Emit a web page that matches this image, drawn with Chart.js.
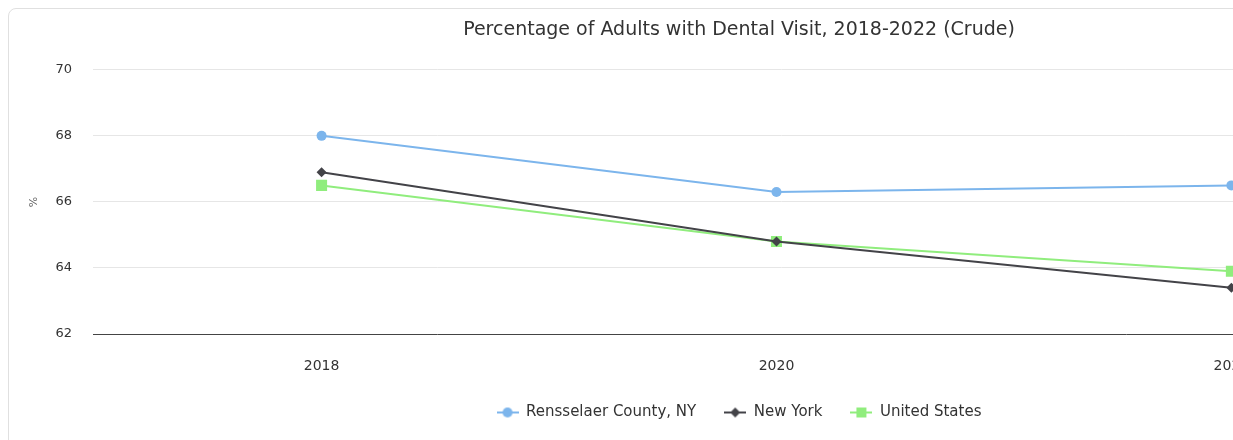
<!DOCTYPE html>
<html>
<head>
<meta charset="utf-8">
<script src="https://cdn.jsdelivr.net/npm/chart.js@4"></script>
<style>
html, body { margin: 0; padding: 0; overflow: hidden; background: #fff; width: 1233px; height: 440px; }
.card { position: absolute; left: 8px; top: 8px; width: 1500px; height: 500px; border: 1px solid #e0e0e0; border-radius: 8px; box-sizing: border-box; }
.wrap { position: absolute; left: 0; top: 0; width: 1478px; height: 460px; }
</style>
</head>
<body>
<div class="card"></div>
<div class="wrap"><canvas id="grafico"></canvas></div>
<script>
// values
var years = [2018, 2020, 2022];
var rensselaer = [68.0, 66.3, 66.5];
var newYork = [66.9, 64.8, 63.4];
var unitedStates = [66.5, 64.8, 63.9];
var yTicks = [62, 64, 66, 68, 70];

var seriesNames = ['Rensselaer County, NY', 'New York', 'United States'];
var seriesColors = ['#7cb5ec', '#434348', '#90ed7d'];
var seriesShapes = ['circle', 'rectRot', 'rect'];
var seriesRadius = [5, 5, 7.8];

function pontos(valores) {
    var out = [];
    for (var i = 0; i < years.length; i++) {
        out.push({ x: years[i], y: valores[i] });
    }
    return out;
}

// small canvas used as legend symbol: line with the marker in the middle
function legendSymbol(cor, forma) {
    var c = document.createElement('canvas');
    c.width = 22; c.height = 12;
    var g = c.getContext('2d');
    g.strokeStyle = cor; g.lineWidth = 2;
    g.beginPath(); g.moveTo(0, 6); g.lineTo(22, 6); g.stroke();
    g.fillStyle = cor;
    g.beginPath();
    if (forma == 'circle') { g.arc(11, 6, 5, 0, Math.PI * 2); }
    else if (forma == 'rectRot') { g.moveTo(11, 1); g.lineTo(16, 6); g.lineTo(11, 11); g.lineTo(6, 6); g.closePath(); }
    else { g.rect(6, 1, 10, 10); }
    g.fill();
    return c;
}

var valores = [rensselaer, newYork, unitedStates];
var datasets = [];
for (var k = 0; k < valores.length; k++) {
    datasets.push({
        label: seriesNames[k],
        data: pontos(valores[k]),
        borderColor: seriesColors[k],
        backgroundColor: seriesColors[k],
        borderWidth: 2,
        pointStyle: seriesShapes[k],
        pointRadius: seriesRadius[k],
        pointHoverRadius: seriesRadius[k],
        pointBorderWidth: 0,
        tension: 0
    });
}

var ctx = document.getElementById('grafico');

var ChartGraph = new Chart(ctx, {
    type: 'line',
    data: { datasets: datasets },
    options: {
        responsive: true,
        maintainAspectRatio: false,
        animation: false,
        layout: { padding: { top: 0, right: 0, bottom: 30, left: 0 } },
        scales: {
            x: {
                type: 'linear',
                min: 2016.995,
                max: 2023.05,
                afterBuildTicks: function (scale) {
                    scale.ticks = years.map(function (v) { return { value: v }; });
                },
                afterFit: function (scale) { scale.height = 43; },
                grid: { display: false, drawTicks: false },
                border: { display: true, color: '#444444', width: 1 },
                ticks: {
                    padding: 24,
                    color: '#333333',
                    font: { family: 'DejaVu Sans', size: 14 },
                    callback: function (v) { return String(v); }
                }
            },
            y: {
                min: 62,
                max: 70,
                afterBuildTicks: function (scale) {
                    scale.ticks = yTicks.map(function (v) { return { value: v }; });
                },
                afterFit: function (scale) { scale.width = 93; },
                grid: { color: '#e6e6e6', lineWidth: 1, drawTicks: false },
                border: { display: false },
                ticks: {
                    padding: 21,
                    color: '#333333',
                    font: { family: 'DejaVu Sans', size: 13 }
                },
                title: {
                    display: true,
                    text: '%',
                    color: '#666666',
                    font: { family: 'DejaVu Sans', size: 11 },
                    padding: { top: 28, bottom: 0 }
                }
            }
        },
        plugins: {
            title: {
                display: true,
                text: 'Percentage of Adults with Dental Visit, 2018-2022 (Crude)',
                color: '#333333',
                font: { family: 'DejaVu Sans', size: 19, weight: 'normal' },
                padding: { top: 19, bottom: 28 }
            },
            legend: {
                position: 'bottom',
                labels: {
                    usePointStyle: true,
                    pointStyleWidth: 22,
                    padding: 28,
                    color: '#333333',
                    font: { family: 'DejaVu Sans', size: 15 },
                    generateLabels: function (chart) {
                        return chart.data.datasets.map(function (d, i) {
                            return {
                                text: d.label,
                                pointStyle: legendSymbol(seriesColors[i], seriesShapes[i]),
                                fillStyle: seriesColors[i],
                                strokeStyle: seriesColors[i],
                                lineWidth: 0,
                                fontColor: '#333333',
                                hidden: false,
                                datasetIndex: i
                            };
                        });
                    }
                }
            },
            tooltip: { enabled: false }
        }
    }
});
</script>
</body>
</html>
